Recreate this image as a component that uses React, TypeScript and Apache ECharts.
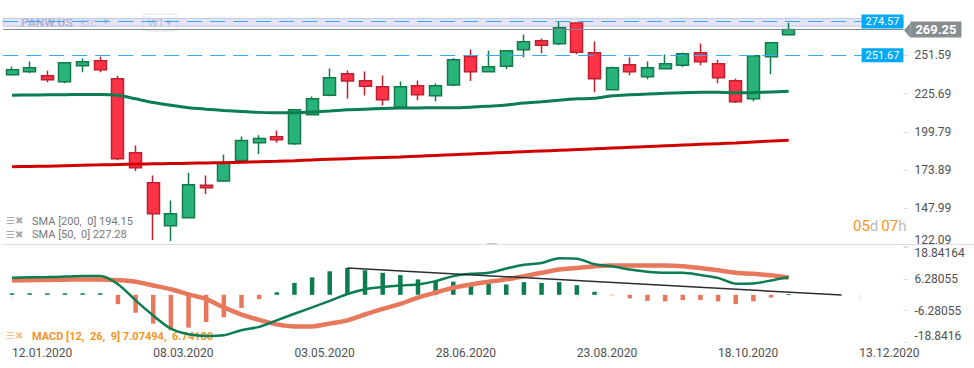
import React, { useEffect, useRef } from "react";
import * as echarts from "echarts";

const categories = [
  "12.01.2020", "19.01.2020", "26.01.2020", "02.02.2020", "09.02.2020", "16.02.2020", "23.02.2020", "01.03.2020",
  "08.03.2020", "15.03.2020", "22.03.2020", "29.03.2020", "05.04.2020", "12.04.2020", "19.04.2020", "26.04.2020",
  "03.05.2020", "10.05.2020", "17.05.2020", "24.05.2020", "31.05.2020", "07.06.2020", "14.06.2020", "21.06.2020",
  "28.06.2020", "05.07.2020", "12.07.2020", "19.07.2020", "26.07.2020", "02.08.2020", "09.08.2020", "16.08.2020",
  "23.08.2020", "30.08.2020", "06.09.2020", "13.09.2020", "20.09.2020", "27.09.2020", "04.10.2020", "11.10.2020",
  "18.10.2020", "25.10.2020", "01.11.2020", "08.11.2020", "15.11.2020", "22.11.2020", "29.11.2020", "06.12.2020",
  "13.12.2020", "20.12.2020", "27.12.2020",
];

const opens = [238.5, 240.5, 237.8, 233.8, 244.6, 248.0, 235.8, 185.6, 165.3, 136.1, 141.6, 163.5, 166.4, 180.4, 192.4,
  196.5, 191.7, 211.4, 224.7, 239.2, 234.4, 230.4, 216.5, 231.0, 224.3, 231.5, 250.7, 240.5, 244.3, 255.5, 261.6, 259.5,
  273.6, 253.4, 228.3, 245.3, 237.1, 242.6, 245.0, 253.4, 246.0, 234.4, 222.2, 250.7, 265.6];
const closes = [241.9, 243.3, 235.1, 246.6, 247.3, 241.9, 181.5, 175.4, 144.3, 144.3, 163.9, 161.9, 178.6, 193.9, 195.3,
  194.4, 214.8, 222.2, 236.5, 234.2, 230.8, 221.6, 230.4, 225.0, 231.0, 248.7, 240.5, 243.9, 254.8, 260.9, 258.6, 270.4,
  253.8, 235.8, 243.3, 240.5, 243.3, 246.0, 252.7, 247.3, 236.5, 220.2, 251.4, 260.2, 269.25];
const lows = [238.0, 239.6, 233.5, 232.8, 240.3, 240.3, 180.6, 173.2, 126.4, 125.7, 141.0, 157.6, 165.7, 180.0, 184.7,
  192.4, 190.8, 211.0, 224.0, 222.4, 224.5, 217.7, 216.0, 221.3, 220.6, 230.8, 234.2, 240.3, 242.3, 250.4, 253.1, 258.6,
  252.5, 226.7, 228.0, 238.2, 235.5, 242.3, 243.7, 245.0, 232.8, 219.3, 220.6, 238.9, 265.3];
const highs = [244.1, 247.5, 241.2, 247.0, 249.6, 250.7, 237.8, 190.6, 170.2, 153.3, 172.1, 170.2, 184.5, 196.7, 197.4,
  200.7, 215.3, 223.8, 242.8, 241.4, 240.7, 238.0, 234.0, 234.6, 232.6, 249.8, 255.7, 254.8, 255.0, 265.8, 263.1, 274.57,
  274.0, 261.1, 244.1, 250.4, 247.5, 252.3, 253.6, 259.7, 248.7, 235.8, 251.6, 260.9, 273.8];

const sma50 = [224.7, 224.8, 224.9, 225.0, 225.2, 225.2, 224.6, 222.2, 219.7, 217.8, 216.2, 215.2, 214.3, 213.6, 213.0,
  212.7, 212.7, 213.3, 213.9, 214.7, 215.2, 215.6, 215.9, 216.0, 216.1, 216.1, 216.5, 217.2, 218.0, 219.3, 220.2, 221.2,
  222.2, 222.5, 224.2, 224.9, 225.4, 225.9, 226.3, 226.7, 226.6, 226.3, 226.5, 226.9, 227.28];
const sma200 = [176.1, 176.3, 176.5, 176.8, 177.1, 177.4, 177.7, 177.9, 178.1, 178.3, 178.5, 178.7, 178.9, 179.2, 179.5,
  179.8, 180.2, 180.7, 181.2, 181.6, 182.0, 182.4, 182.8, 183.3, 183.8, 184.3, 184.8, 185.3, 185.8, 186.3, 186.8, 187.3,
  187.8, 188.3, 188.8, 189.3, 189.8, 190.3, 190.8, 191.3, 191.8, 192.3, 192.9, 193.5, 194.15];

const macdLine = [6.7, 6.9, 7.0, 7.2, 7.4, 7.4, 4.2, -2.2, -8.2, -13.4, -15.6, -16.3, -16.0, -14.0, -12.7, -10.1, -7.5,
  -5.0, -2.4, 0.3, 2.2, 3.1, 3.7, 4.1, 5.4, 7.4, 8.3, 8.7, 10.4, 11.9, 12.6, 14.5, 14.3, 12.1, 11.3, 10.0, 9.1, 8.7, 8.7,
  7.8, 6.7, 4.4, 4.5, 5.7, 7.07];
const signalLine = [5.7, 5.8, 5.9, 6.0, 6.1, 6.1, 5.8, 5.2, 3.7, 2.2, 0.2, -1.7, -5.0, -7.8, -9.9, -11.7, -12.5, -12.5,
  -11.4, -10.1, -7.8, -5.6, -3.6, -1.1, 0.9, 2.8, 4.1, 5.2, 6.1, 7.4, 8.7, 10.0, 10.6, 11.3, 11.6, 11.6, 11.6, 11.6, 11.3,
  10.6, 9.7, 8.7, 8.3, 7.7, 6.74];
const macdHist = [0.6, 0.6, 0.6, 0.6, 0.6, 0.6, -3.7, -7.1, -11.4, -14.0, -13.0, -10.8, -8.9, -5.2, -1.7, 1.0, 4.7, 6.9,
  9.3, 10.6, 9.7, 8.7, 7.8, 6.1, 5.4, 5.2, 4.5, 4.5, 4.1, 5.0, 4.7, 5.0, 3.8, 1.2, -0.2, -1.4, -2.4, -2.6, -2.1, -2.1,
  -2.6, -3.7, -2.6, -1.1, 0.3];
const trendLine = [[19, 10.6], [47, -0.1]];

const priceTicks = [122.09, 147.99, 173.89, 199.79, 225.69, 251.59];
const macdTicks = [-18.84164, -6.28055, 6.28055, 18.84164];
const macdTickLabels = ["-18.8416", "-6.28055", "6.28055", "18.84164"];
const priceMin = 122.09;
const priceMax = 278.71;
const lastPrice = 269.25;
const highLevel = 274.57;
const levelLine = 251.67;
const bandTop = 276.6;
const bandBottom = 271.4;

const GREEN = "#0b7d50";
const ORANGE = "#e8785c";
const BLUE = "#03a9f4";

export default function App() {
  const ref = useRef<HTMLDivElement>(null);
  useEffect(() => {
    if (!ref.current) return;
    const chart = echarts.init(ref.current, undefined, { renderer: "svg" });
    const candles = opens.map((o, i) => [o, closes[i], lows[i], highs[i]]);
    const showIdx = (i: number) => i % 8 === 0;
    const gridL = 3.2;
    const gridR = 70.6;
    const blueLabel = {
      show: true,
      position: "insideEnd",
      distance: 0,
      formatter: (p: any) => Number(p.value).toFixed(2),
      backgroundColor: BLUE,
      color: "#fff",
      fontSize: 11,
      padding: [2, 4, 1, 4],
    };
    const option: any = {
      animation: false,
      textStyle: { fontFamily: "Roboto" },
      grid: [
        { left: gridL, right: gridR, top: 15.5, height: 230.9, outerBoundsMode: "none" },
        { left: gridL, right: gridR, top: 247.2, height: 95.2, outerBoundsMode: "none" },
      ],
      xAxis: [
        { type: "category", gridIndex: 0, data: categories, boundaryGap: true, show: false },
        {
          type: "category",
          gridIndex: 1,
          data: categories,
          boundaryGap: true,
          axisLine: { show: false },
          axisTick: { show: true, alignWithLabel: true, interval: showIdx, length: 4, lineStyle: { color: "#dddddd" } },
          axisLabel: {
            interval: showIdx,
            align: "left",
            color: "#505050",
            fontSize: 12,
            margin: 5,
          },
        },
      ],
      yAxis: [
        {
          type: "value",
          gridIndex: 0,
          position: "right",
          min: priceMin,
          max: priceMax,
          splitLine: { show: false },
          axisLine: { show: false },
          axisTick: { show: true, customValues: priceTicks, length: 5, lineStyle: { color: "#dddddd" } },
          axisLabel: {
            customValues: priceTicks,
            margin: 11,
            color: "#505050",
            fontSize: 12,
            lineHeight: 12,
            verticalAlignMinLabel: "bottom",
            formatter: (v: number) => v.toFixed(2),
          },
        },
        {
          type: "value",
          gridIndex: 1,
          position: "right",
          min: macdTicks[0],
          max: macdTicks[macdTicks.length - 1],
          splitLine: { show: false },
          axisLine: { show: false },
          axisTick: { show: true, customValues: macdTicks, length: 5, lineStyle: { color: "#dddddd" } },
          axisLabel: {
            customValues: macdTicks,
            margin: 11,
            color: "#505050",
            fontSize: 12,
            lineHeight: 12,
            verticalAlignMinLabel: "bottom",
            verticalAlignMaxLabel: "top",
            formatter: (v: number) => {
              let k = 0;
              macdTicks.forEach((t, i) => {
                if (Math.abs(t - v) < Math.abs(macdTicks[k] - v)) k = i;
              });
              return macdTickLabels[k];
            },
          },
        },
      ],
      series: [
        {
          type: "candlestick",
          xAxisIndex: 0,
          yAxisIndex: 0,
          data: candles,
          barWidth: 12.5,
          itemStyle: {
            color: "#27b379",
            color0: "#ff3347",
            borderColor: "#137a4c",
            borderColor0: "#c01f30",
            borderWidth: 1.5,
          },
          markArea: {
            silent: true,
            data: [[{ yAxis: bandTop }, { yAxis: bandBottom }]],
            itemStyle: { color: "rgba(195,198,238,0.45)", borderColor: "#c3c6e4", borderWidth: 1 },
          },
          markLine: {
            silent: true,
            symbol: ["none", "none"],
            data: [
              { yAxis: highLevel, lineStyle: { color: "#3aaaf0", type: [15, 8], width: 1 }, label: blueLabel },
              { yAxis: levelLine, lineStyle: { color: "#3aaaf0", type: [15, 8], width: 1 }, label: blueLabel },
              {
                yAxis: lastPrice,
                lineStyle: { color: "#7f898d", type: "solid", width: 1 },
                label: {
                  show: true,
                  position: "end",
                  distance: 7,
                  formatter: (p: any) => Number(p.value).toFixed(2),
                  backgroundColor: "#868e91",
                  color: "#fff",
                  fontWeight: "bold",
                  fontSize: 13,
                  lineHeight: 14,
                  padding: [1, 5, 1, 5],
                },
              },
            ],
          },
        },
        {
          type: "line",
          xAxisIndex: 0,
          yAxisIndex: 0,
          data: sma50,
          symbol: "none",
          smooth: 0.3,
          lineStyle: { color: GREEN, width: 3 },
          z: 3,
        },
        {
          type: "line",
          xAxisIndex: 0,
          yAxisIndex: 0,
          data: sma200,
          symbol: "none",
          smooth: 0.3,
          lineStyle: { color: "#d10000", width: 3 },
          z: 3,
        },
        {
          type: "bar",
          xAxisIndex: 1,
          yAxisIndex: 1,
          data: macdHist,
          barWidth: 4.5,
          itemStyle: { color: (p: any) => (p.value >= 0 ? GREEN : ORANGE) },
        },
        {
          type: "line",
          xAxisIndex: 1,
          yAxisIndex: 1,
          data: signalLine,
          symbol: "none",
          smooth: 0.3,
          lineStyle: { color: ORANGE, width: 4.5 },
          z: 3,
        },
        {
          type: "line",
          xAxisIndex: 1,
          yAxisIndex: 1,
          data: macdLine,
          symbol: "none",
          smooth: 0.3,
          lineStyle: { color: GREEN, width: 2.5 },
          z: 4,
        },
        {
          type: "line",
          xAxisIndex: 1,
          yAxisIndex: 1,
          data: trendLine,
          symbol: "none",
          lineStyle: { color: "#2a2d33", width: 1.5 },
          z: 5,
        },
      ],
      graphic: [
        { type: "line", shape: { x1: 3, y1: 244.5, x2: 974, y2: 244.5 }, style: { stroke: "#dddddd", lineWidth: 1 }, z: 1 },
        { type: "rect", shape: { x: 487, y: 243, width: 10, height: 2 }, style: { fill: "#c4c4c4" } },
        {
          type: "polygon",
          shape: { points: [[904, 30.3], [910.5, 23], [910.5, 38]] },
          style: { fill: "#868e91" },
        },
        {
          type: "text", x: 21, y: 23,
          style: { text: "PANW.US", fill: "#9ea2b8", fontSize: 12, fontWeight: "bold", fontFamily: "Roboto", verticalAlign: "middle" },
        },
        {
          type: "text", x: 80, y: 24,
          style: { text: "STC", fill: "#b3b7c9", fontSize: 9, fontFamily: "Roboto", verticalAlign: "middle" },
        },
        {
          type: "text", x: 103, y: 22,
          style: { text: "▼", fill: "#b3b7c9", fontSize: 7, fontFamily: "DejaVu Sans", verticalAlign: "middle" },
        },
        {
          type: "rect",
          shape: { x: 143, y: 14, width: 34, height: 17, r: 3 },
          style: { fill: "rgba(255,255,255,0.2)", stroke: "#e3e3e8", lineWidth: 1 },
        },
        {
          type: "text", x: 148, y: 23,
          style: { text: "W1", fill: "#aeb2c4", fontSize: 11, fontFamily: "Roboto", verticalAlign: "middle" },
        },
        {
          type: "text", x: 166, y: 23,
          style: { text: "▼", fill: "#b3b7c9", fontSize: 7, fontFamily: "DejaVu Sans", verticalAlign: "middle" },
        },
        {
          type: "text", x: 6, y: 220.5,
          style: { text: "☰✖", fill: "#a9a9a9", fontSize: 10, fontFamily: "DejaVu Sans", verticalAlign: "middle" },
        },
        {
          type: "text", x: 32, y: 221,
          style: { text: "SMA [200,  0] 194.15", fill: "#777777", fontSize: 11, fontFamily: "Roboto", verticalAlign: "middle" },
        },
        {
          type: "text", x: 6, y: 234,
          style: { text: "☰✖", fill: "#a9a9a9", fontSize: 10, fontFamily: "DejaVu Sans", verticalAlign: "middle" },
        },
        {
          type: "text", x: 32, y: 234.5,
          style: { text: "SMA [50,  0] 227.28", fill: "#777777", fontSize: 11, fontFamily: "Roboto", verticalAlign: "middle" },
        },
        {
          type: "text", x: 6, y: 335.5,
          style: { text: "☰✖", fill: "#f6c48e", fontSize: 10, fontFamily: "DejaVu Sans", verticalAlign: "middle" },
        },
        {
          type: "text", x: 32, y: 336,
          style: {
            text: "MACD [12,  26,  9] 7.07494,  6.74180",
            fill: "#f7931e", fontSize: 11, fontWeight: "bold", fontFamily: "Roboto", verticalAlign: "middle",
          },
        },
        {
          type: "text", x: 853, y: 226,
          style: {
            text: "{o|05}{g|d} {o|07}{g|h}",
            verticalAlign: "middle",
            fontFamily: "Roboto",
            rich: {
              o: { fill: "#f7931e", fontSize: 15, fontFamily: "Roboto" },
              g: { fill: "#bdbdbd", fontSize: 15, fontFamily: "Roboto" },
            },
          },
        },
      ],
    };
    chart.setOption(option);
    return () => chart.dispose();
  }, []);
  return (
    <div
      ref={ref}
      style={{ position: "fixed", left: 0, top: 0, width: 974, height: 368, background: "#ffffff" }}
    />
  );
}
